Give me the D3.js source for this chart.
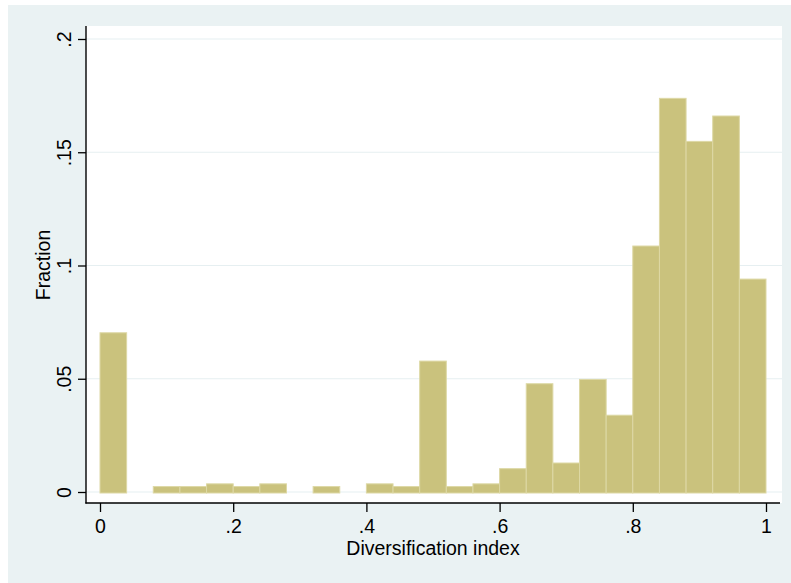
<!DOCTYPE html>
<html>
<head>
<meta charset="utf-8">
<script src="https://cdn.jsdelivr.net/npm/d3@7"></script>
<style>
  html, body { margin: 0; padding: 0; background: #ffffff; }
  svg { display: block; }
  text { font-family: "Liberation Sans", Arial, Helvetica, sans-serif; fill: #000; }
</style>
</head>
<body>
<svg id="chart" width="791" height="583"></svg>
<script>
// Histogram bins (left edges), bin width, and fractions
const binStarts = [0.00, 0.04, 0.08, 0.12, 0.16, 0.20, 0.24, 0.28, 0.32, 0.36,
                   0.40, 0.44, 0.48, 0.52, 0.56, 0.60, 0.64, 0.68, 0.72, 0.76,
                   0.80, 0.84, 0.88, 0.92, 0.96];
const binWidth = 0.04;
const fractions = [0.0703, 0, 0.0024, 0.0024, 0.0036, 0.0024, 0.0036, 0, 0.0024, 0,
                   0.0036, 0.0024, 0.0578, 0.0024, 0.0036, 0.0103, 0.0478, 0.0128, 0.0497, 0.0339,
                   0.1086, 0.1738, 0.1548, 0.1660, 0.0940];
const xTicks = [0, 0.2, 0.4, 0.6, 0.8, 1];
const xTickLabels = ["0", ".2", ".4", ".6", ".8", "1"];
const yTicks = [0, 0.05, 0.1, 0.15, 0.2];
const yTickLabels = ["0", ".05", ".1", ".15", ".2"];
const xTitle = "Diversification index";
const yTitle = "Fraction";

const svg = d3.select("#chart");
const W = 791, H = 583;

// outer graph region
svg.append("rect").attr("x", 8).attr("y", 5).attr("width", W - 8).attr("height", H - 5)
  .attr("fill", "#eaf2f3");

// plot region
const plot = { left: 86, right: 782, top: 26, bottom: 503 };
svg.append("rect").attr("x", plot.left).attr("y", plot.top)
  .attr("width", plot.right - plot.left).attr("height", plot.bottom - plot.top)
  .attr("fill", "#ffffff");

const x = d3.scaleLinear().domain([0, 1]).range([100, 766]);
const y = d3.scaleLinear().domain([0, 0.2]).range([492, 39]);

// gridlines
svg.append("g").selectAll("line").data(yTicks).join("line")
  .attr("x1", plot.left).attr("x2", plot.right)
  .attr("y1", d => y(d)).attr("y2", d => y(d))
  .attr("stroke", "#e6eff1").attr("stroke-width", 1.2);

// bars
svg.append("g").selectAll("rect").data(binStarts.map((s, i) => ({ s, v: fractions[i] })).filter(d => d.v > 0))
  .join("rect")
  .attr("x", d => x(d.s))
  .attr("width", d => x(d.s + binWidth) - x(d.s))
  .attr("y", d => y(d.v))
  .attr("height", d => y(0) - y(d.v) + 1)
  .attr("fill", "#cac27d")
  .attr("stroke", "#ddd8a5")
  .attr("stroke-width", 1);

// axes
const yAxis = d3.axisLeft(y).tickValues(yTicks).tickFormat((d, i) => yTickLabels[i])
  .tickSize(8).tickSizeOuter(0);
const gy = svg.append("g").attr("transform", `translate(${plot.left},0)`).call(yAxis);
gy.select(".domain").remove();
gy.selectAll(".tick line").attr("stroke", "#000").attr("stroke-width", 1.3);
gy.selectAll(".tick text")
  .attr("x", null).attr("dy", null)
  .attr("transform", "translate(-15,0) rotate(-90)")
  .attr("text-anchor", "middle")
  .attr("y", 0)
  .style("font-size", "19.5px")
  .style("font-family", "'Liberation Sans', Arial, sans-serif")
  .attr("fill", "#000");

const xAxis = d3.axisBottom(x).tickValues(xTicks).tickFormat((d, i) => xTickLabels[i])
  .tickSize(9).tickSizeOuter(0);
const gx = svg.append("g").attr("transform", `translate(0,${plot.bottom})`).call(xAxis);
gx.select(".domain").remove();
gx.selectAll(".tick line").attr("stroke", "#000").attr("stroke-width", 1.3);
gx.selectAll(".tick text")
  .attr("y", 30).attr("dy", null)
  .style("font-size", "19.5px")
  .style("font-family", "'Liberation Sans', Arial, sans-serif")
  .attr("fill", "#000");

// axis lines
svg.append("line").attr("x1", plot.left).attr("x2", plot.left)
  .attr("y1", plot.top).attr("y2", plot.bottom + 0.6)
  .attr("stroke", "#000").attr("stroke-width", 1.4);
svg.append("line").attr("x1", plot.left - 0.6).attr("x2", 780)
  .attr("y1", plot.bottom).attr("y2", plot.bottom)
  .attr("stroke", "#000").attr("stroke-width", 1.4);

// titles
svg.append("text").attr("x", 433).attr("y", 555)
  .attr("text-anchor", "middle").style("font-size", "19.5px").text(xTitle);
svg.append("text").attr("transform", "translate(50,265) rotate(-90)")
  .attr("text-anchor", "middle").style("font-size", "19.5px").text(yTitle);
</script>
</body>
</html>
